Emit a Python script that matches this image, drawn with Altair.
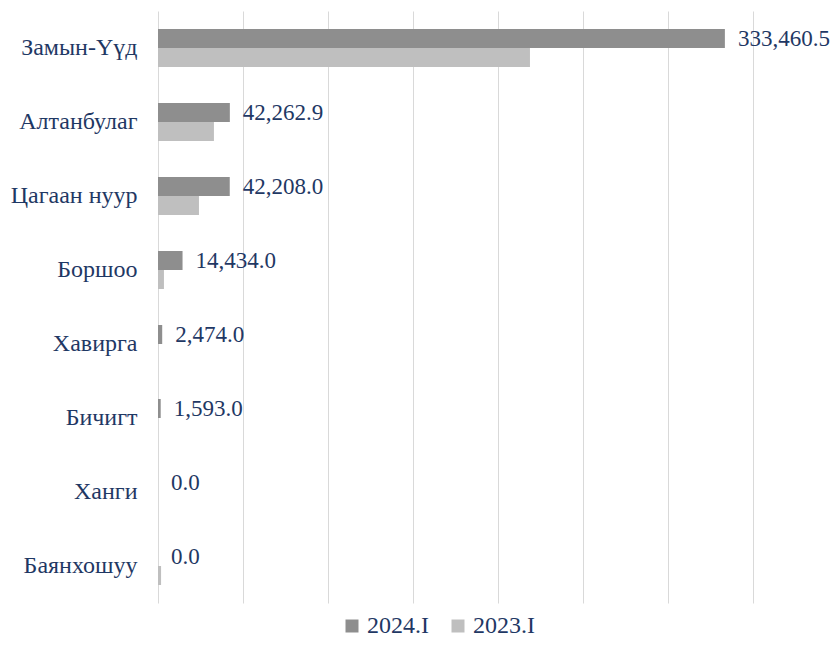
import altair as alt
import pandas as pd

categories = ["Замын-Үүд", "Алтанбулаг", "Цагаан нуур", "Боршоо", "Хавирга", "Бичигт", "Ханги", "Баянхошуу"]
values_2024 = [333460.5, 42262.9, 42208.0, 14434.0, 2474.0, 1593.0, 0.0, 0.0]
values_2023 = [218800.0, 32900.0, 24100.0, 3500.0, 0.0, 0.0, 0.0, 1800.0]
series = ["2024.I", "2023.I"]

rows = []
for c, v in zip(categories, values_2024):
    rows.append({"cat": c, "series": series[0], "value": v, "label": f"{v:,.1f}"})
for c, v in zip(categories, values_2023):
    rows.append({"cat": c, "series": series[1], "value": v, "label": f"{v:,.1f}"})
df = pd.DataFrame(rows)

FONT = "Liberation Serif"
NAVY = "#1F3864"
FS = 24

yenc = alt.Y("cat:N", sort=categories, title=None,
             scale=alt.Scale(paddingInner=0.486, paddingOuter=0.243),
             axis=alt.Axis(domain=False, ticks=False, labelFont=FONT, labelFontSize=FS,
                           labelColor=NAVY, labelPadding=21))
xenc = alt.X("value:Q", title=None,
             scale=alt.Scale(domain=[0, 350000], nice=False),
             axis=alt.Axis(values=list(range(0, 350001, 50000)), labels=False, ticks=False,
                           domain=False, grid=True, gridColor="#D9D9D9", gridWidth=1))
yoff = alt.YOffset("series:N", sort=series, scale=alt.Scale(domain=series, paddingInner=0, paddingOuter=0))

bars = alt.Chart(df).mark_bar().encode(
    y=yenc, x=xenc, yOffset=yoff,
    color=alt.Color("series:N", sort=series,
                    scale=alt.Scale(domain=series, range=["#8E8E8E", "#BFBFBF"]),
                    legend=alt.Legend(title=None, orient="none", direction="horizontal",
                                      legendX=182, legendY=603, symbolType="square",
                                      symbolSize=169, symbolStrokeWidth=0,
                                      labelFont=FONT, labelFontSize=FS, labelColor=NAVY,
                                      columnPadding=17, labelOffset=3)),
)

text = alt.Chart(df).transform_filter(alt.datum.series == "2024.I").mark_text(
    align="left", baseline="middle", dx=13, dy=1, font=FONT, fontSize=23, color=NAVY
).encode(y=yenc, x=xenc, yOffset=yoff, text="label:N")

chart = alt.layer(bars, text).properties(
    width=595, height=592,
    padding={"left": 150, "top": 3, "right": 77, "bottom": 51},
    autosize=alt.AutoSizeParams(type="none"),
).configure_view(stroke=None)

chart.save("out.html", embed_options={"renderer": "svg", "actions": False})
